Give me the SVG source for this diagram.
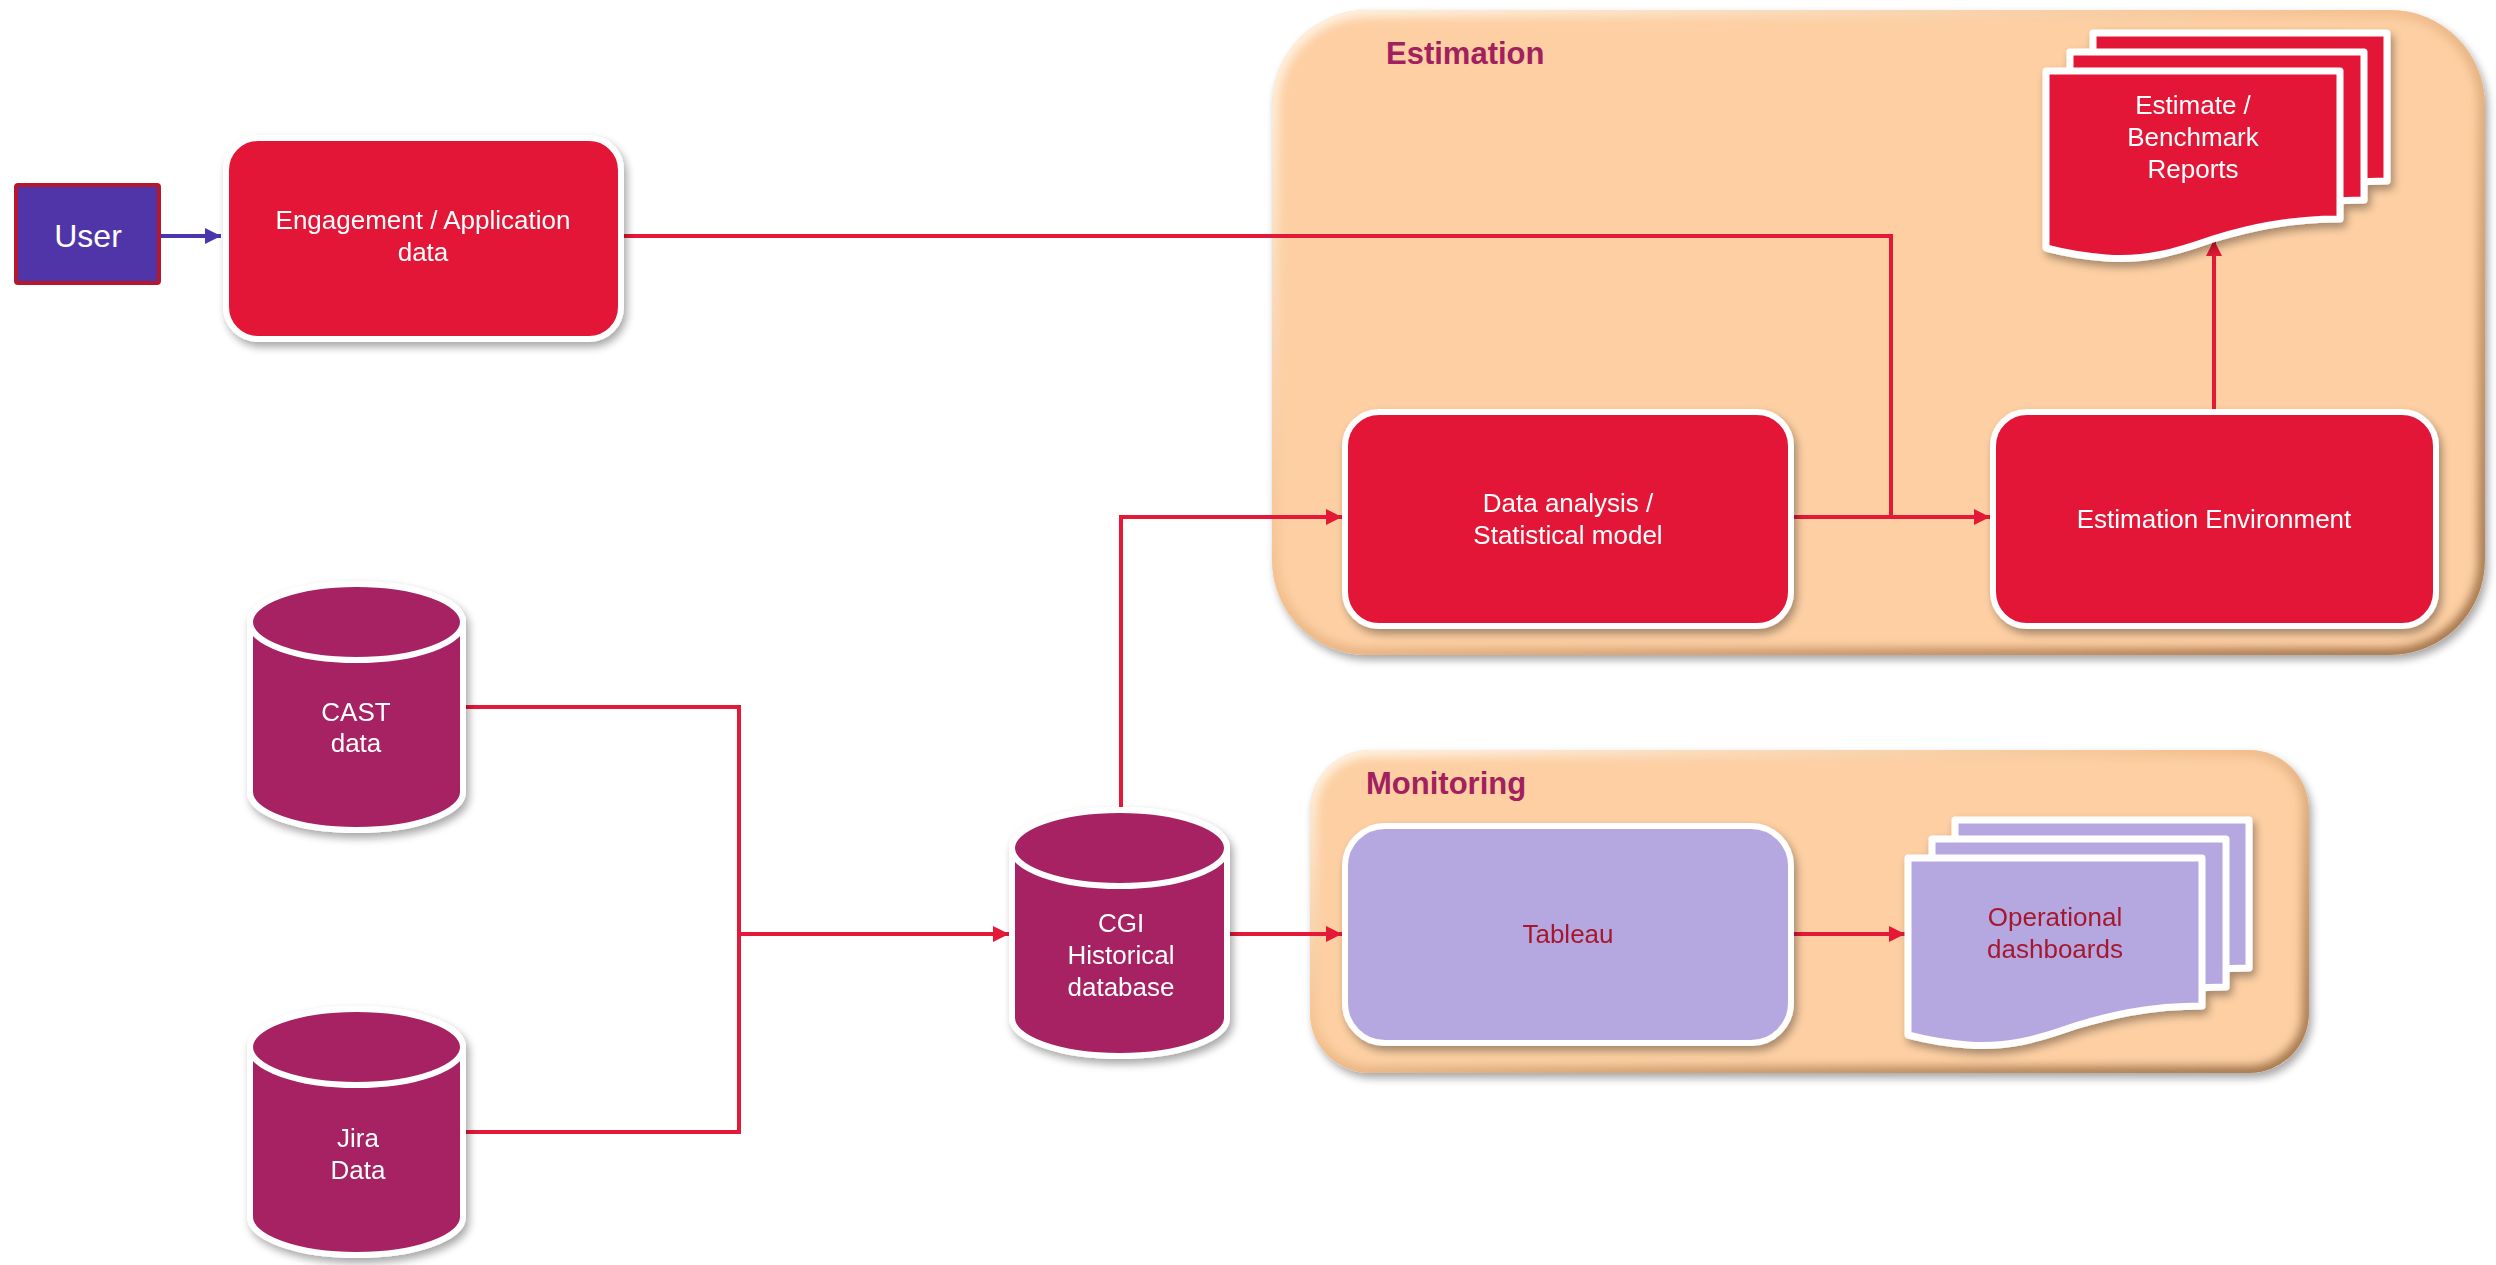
<svg xmlns="http://www.w3.org/2000/svg" width="2496" height="1265" viewBox="0 0 2496 1265">
<style>
  .lbl{font-family:"Liberation Sans",Arial,sans-serif;font-size:26px;fill:#ffffff;text-anchor:middle}
  .dlbl{font-family:"Liberation Sans",Arial,sans-serif;font-size:26px;fill:#A6192E;text-anchor:middle}
  .ttl{font-family:"Liberation Sans",Arial,sans-serif;font-size:31px;font-weight:bold;fill:#A2205E}
  .redbox{fill:#E31937;stroke:#ffffff;stroke-width:6}
  .lavbox{fill:#B5A8E0;stroke:#ffffff;stroke-width:6}
  .cyl{fill:#A62262;stroke:#ffffff;stroke-width:6}
  .doc{fill:#E31937;stroke:#ffffff;stroke-width:7;stroke-linejoin:round}
  .ldoc{fill:#B5A8E0;stroke:#ffffff;stroke-width:7;stroke-linejoin:round}
  .con{fill:none;stroke:#E31937;stroke-width:4}
  .cont{fill:#FDCFA3}
</style>
<defs>
  <filter id="sh" x="-10%" y="-10%" width="130%" height="130%">
    <feGaussianBlur in="SourceAlpha" stdDeviation="4"/>
    <feOffset dx="3" dy="5" result="b"/>
    <feComponentTransfer><feFuncA type="linear" slope="0.35"/></feComponentTransfer>
    <feMerge><feMergeNode/><feMergeNode in="SourceGraphic"/></feMerge>
  </filter>
  <filter id="blur" x="-5%" y="-5%" width="110%" height="110%">
    <feGaussianBlur stdDeviation="5"/>
  </filter>
  <linearGradient id="bev" x1="0" y1="0" x2="1" y2="1">
    <stop offset="0" stop-color="#FFF6E8"/>
    <stop offset="0.45" stop-color="#F3C08F"/>
    <stop offset="1" stop-color="#9E7048"/>
  </linearGradient>
  <clipPath id="clipE"><rect x="1272" y="10" width="1213" height="645" rx="95"/></clipPath>
  <clipPath id="clipM"><rect x="1310" y="750" width="999" height="323" rx="60"/></clipPath>
  <marker id="ar" viewBox="0 0 10 10" refX="10" refY="5" markerWidth="16" markerHeight="16" markerUnits="userSpaceOnUse" orient="auto">
    <path d="M0,0 L10,5 L0,10 Z" fill="#E31937"/>
  </marker>
  <marker id="ap" viewBox="0 0 10 10" refX="10" refY="5" markerWidth="16" markerHeight="16" markerUnits="userSpaceOnUse" orient="auto">
    <path d="M0,0 L10,5 L0,10 Z" fill="#4B36B0"/>
  </marker>
  <path id="docShape" d="M0,0 H294 V148 C240,148 200,158 167,168 C130,181 100,190 60,187 C35,185 15,181 0,177 Z"/>
</defs>

<g id="estimation-group">
  <rect x="1272" y="10" width="1213" height="645" rx="95" class="cont" filter="url(#sh)"/>
  <rect x="1272" y="10" width="1213" height="645" rx="95" fill="none" stroke="url(#bev)" stroke-width="14" filter="url(#blur)" clip-path="url(#clipE)"/>
  <text x="1386" y="64" class="ttl">Estimation</text>
</g>
<g id="monitoring-group">
  <rect x="1310" y="750" width="999" height="323" rx="60" class="cont" filter="url(#sh)"/>
  <rect x="1310" y="750" width="999" height="323" rx="60" fill="none" stroke="url(#bev)" stroke-width="14" filter="url(#blur)" clip-path="url(#clipM)"/>
  <text x="1366" y="794" class="ttl">Monitoring</text>
</g>

<g id="connectors">
  <line x1="161" y1="236" x2="221" y2="236" stroke="#4B36B0" stroke-width="4" marker-end="url(#ap)"/>
  <path class="con" d="M624,236 H1891 V517"/>
  <path class="con" d="M1794,517 H1990" marker-end="url(#ar)"/>
  <path class="con" d="M2214,409 V240" marker-end="url(#ar)"/>
  <path class="con" d="M466,707 H739 V1132 H466"/>
  <path class="con" d="M739,934 H1009" marker-end="url(#ar)"/>
  <path class="con" d="M1121,807 V517 H1342" marker-end="url(#ar)"/>
  <path class="con" d="M1230,934 H1342" marker-end="url(#ar)"/>
  <path class="con" d="M1794,934 H1905" marker-end="url(#ar)"/>
</g>

<g id="user">
  <rect x="16" y="185" width="143" height="98" rx="2" fill="#5035A8" stroke="#B5182E" stroke-width="4"/>
  <text x="88" y="247" class="lbl" style="font-size:32px">User</text>
</g>

<g id="engagement" filter="url(#sh)">
  <rect x="226" y="138" width="395" height="201" rx="32" class="redbox"/>
  <text x="423" y="229" class="lbl">Engagement / Application</text>
  <text x="423" y="261" class="lbl">data</text>
</g>

<g id="data-analysis" filter="url(#sh)">
  <rect x="1345" y="412" width="446" height="214" rx="34" class="redbox"/>
  <text x="1568" y="512" class="lbl">Data analysis /</text>
  <text x="1568" y="544" class="lbl">Statistical model</text>
</g>

<g id="estimation-environment" filter="url(#sh)">
  <rect x="1993" y="412" width="443" height="214" rx="34" class="redbox"/>
  <text x="2214" y="528" class="lbl">Estimation Environment</text>
</g>

<g id="reports" filter="url(#sh)">
  <use href="#docShape" class="doc" transform="translate(2093,33)"/>
  <use href="#docShape" class="doc" transform="translate(2070,52)"/>
  <use href="#docShape" class="doc" transform="translate(2046,71)"/>
  <text x="2193" y="114" class="lbl">Estimate /</text>
  <text x="2193" y="146" class="lbl">Benchmark</text>
  <text x="2193" y="178" class="lbl">Reports</text>
</g>

<g id="tableau" filter="url(#sh)">
  <rect x="1345" y="826" width="446" height="217" rx="40" class="lavbox"/>
  <text x="1568" y="943" class="dlbl">Tableau</text>
</g>

<g id="dashboards" filter="url(#sh)">
  <use href="#docShape" class="ldoc" transform="translate(1955,820)"/>
  <use href="#docShape" class="ldoc" transform="translate(1932,839)"/>
  <use href="#docShape" class="ldoc" transform="translate(1908,858)"/>
  <text x="2055" y="926" class="dlbl">Operational</text>
  <text x="2055" y="958" class="dlbl">dashboards</text>
</g>

<g id="cast-data" filter="url(#sh)">
  <path class="cyl" d="M250,622 A106.5,38 0 0 1 463,622 V792 A106.5,38 0 0 1 250,792 Z"/>
  <ellipse cx="356.5" cy="622" rx="106.5" ry="38" class="cyl"/>
  <text x="356" y="721" class="lbl">CAST</text>
  <text x="356" y="752" class="lbl">data</text>
</g>

<g id="jira-data" filter="url(#sh)">
  <path class="cyl" d="M250,1047 A106.5,38 0 0 1 463,1047 V1217 A106.5,38 0 0 1 250,1217 Z"/>
  <ellipse cx="356.5" cy="1047" rx="106.5" ry="38" class="cyl"/>
  <text x="358" y="1147" class="lbl">Jira</text>
  <text x="358" y="1179" class="lbl">Data</text>
</g>

<g id="cgi-database" filter="url(#sh)">
  <path class="cyl" d="M1012,848 A107.5,38 0 0 1 1227,848 V1018 A107.5,38 0 0 1 1012,1018 Z"/>
  <ellipse cx="1119.5" cy="848" rx="107.5" ry="38" class="cyl"/>
  <text x="1121" y="932" class="lbl">CGI</text>
  <text x="1121" y="964" class="lbl">Historical</text>
  <text x="1121" y="996" class="lbl">database</text>
</g>
</svg>
